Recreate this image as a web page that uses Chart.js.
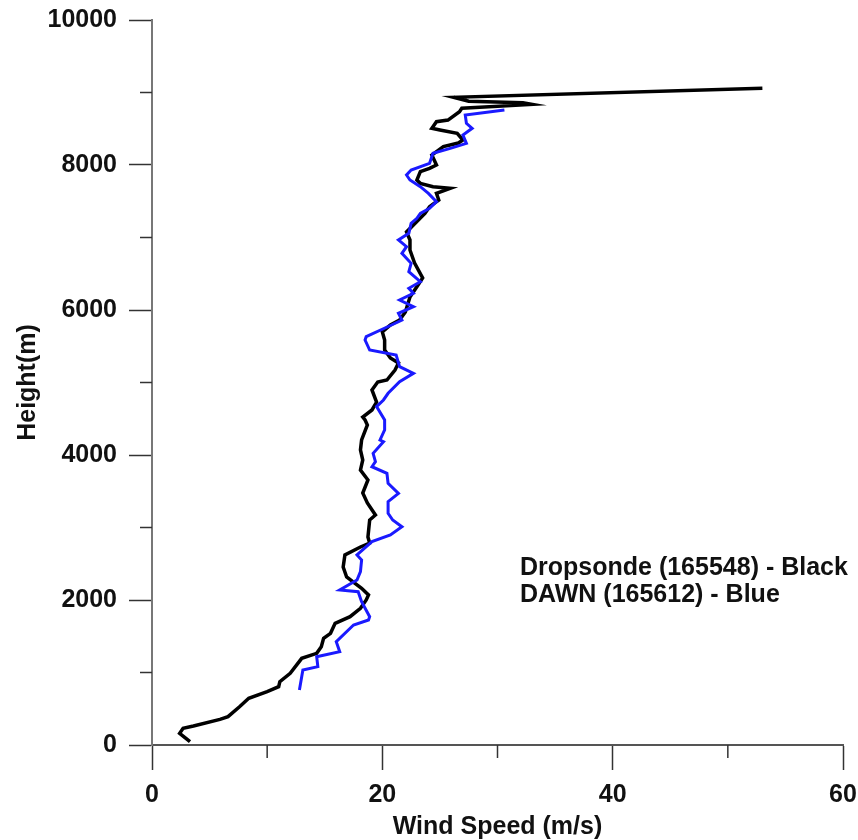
<!DOCTYPE html>
<html>
<head>
<meta charset="utf-8">
<title>Wind Speed Profile</title>
<script src="https://cdn.jsdelivr.net/npm/chart.js@4.4.1/dist/chart.umd.min.js"></script>
<style>
  body { margin: 0; background: #fff; }
  #wrap { width: 858px; height: 840px; }
</style>
</head>
<body>
<div id="wrap"><canvas id="profileChart" width="858" height="840"></canvas></div>
<script>
// ========================================
// DATA
// ========================================
const dropsondeSpeed = [3.3, 2.4, 2.7, 3.6, 5.9, 6.6, 7.6, 8.4, 10.0, 11.0, 11.1, 12.0, 13.0, 14.3, 14.7, 14.9, 15.5, 15.9,
    17.2, 18.1, 18.6, 18.8, 18.2, 17.6, 16.9, 16.6, 16.75, 18.1, 18.9, 18.75, 18.9, 19.4, 18.7, 18.3, 18.75, 18.1,
    18.3, 18.1, 18.2, 18.7, 18.5, 18.3, 19.1, 19.5, 19.1, 19.6, 20.4, 21.1, 21.4, 20.7, 20.2, 20.2, 20.0, 20.7,
    21.5, 22.0, 22.4, 23.1, 23.5, 22.8, 22.4, 22.4, 22.1, 22.7, 23.7, 24.1, 24.9, 24.7, 25.9, 24.4, 23.3, 23.0,
    23.3, 24.1, 24.7, 24.3, 25.3, 26.6, 27.0, 26.5, 25.0, 24.3, 24.7, 25.7, 26.7, 26.9, 33.0, 32.2, 27.5, 26.2, 53.0];
const dropsondeHeight = [46, 161, 230, 262, 354, 391, 528, 644, 736, 805, 874, 989, 1195, 1264, 1356, 1471, 1540, 1678,
    1770, 1885, 2000, 2069, 2161, 2234, 2317, 2455, 2621, 2731, 2786, 2869, 3103, 3172, 3338, 3476, 3655, 3793,
    3931, 4069, 4207, 4414, 4483, 4524, 4621, 4731, 4897, 5007, 5034, 5172, 5269, 5338, 5448, 5586, 5697, 5793,
    5862, 5972, 6179, 6345, 6441, 6648, 6828, 6966, 7076, 7172, 7333, 7425, 7517, 7609, 7678, 7700, 7747, 7793,
    7908, 7953, 8000, 8138, 8253, 8303, 8345, 8436, 8483, 8506, 8598, 8620, 8735, 8782, 8836, 8859, 8880, 8934, 9058];

const dawnSpeed = [12.8, 13.1, 14.4, 14.3, 16.3, 16.0, 17.5, 18.8, 18.9, 18.2, 17.9, 16.3, 17.8, 18.1, 18.2, 17.8, 19.1,
    20.7, 21.7, 20.9, 20.5, 20.5, 21.4, 20.5, 20.4, 19.1, 19.4, 19.2, 20.1, 19.8, 20.2, 20.2, 19.5, 20.1, 20.5,
    21.5, 22.7, 21.5, 21.2, 18.9, 18.5, 18.6, 20.8, 21.7, 21.4, 22.7, 21.5, 22.7, 22.3, 23.3, 22.3, 22.5, 21.7,
    22.1, 21.4, 22.3, 22.5, 23.0, 23.3, 24.1, 24.7, 24.0, 23.3, 22.4, 22.1, 22.5, 24.1, 24.4, 25.9, 27.3, 27.0,
    27.8, 27.3, 27.2, 30.6];
const dawnHeight = [759, 1034, 1080, 1218, 1287, 1425, 1655, 1724, 1770, 1977, 2115, 2138, 2276, 2391, 2552, 2621, 2805,
    2897, 3011, 3103, 3195, 3356, 3471, 3609, 3747, 3838, 3908, 4023, 4184, 4207, 4345, 4483, 4668, 4759, 4851,
    5011, 5126, 5218, 5379, 5448, 5586, 5632, 5793, 5862, 5954, 6046, 6138, 6230, 6299, 6390, 6528, 6644, 6782,
    6873, 6966, 7057, 7195, 7264, 7333, 7402, 7494, 7609, 7701, 7793, 7862, 7931, 8023, 8161, 8230, 8299, 8414,
    8506, 8575, 8690, 8759];

const xMajorTicks = [0, 20, 40, 60];
const xMinorTicks = [10, 30, 50];
const yMajorTicks = [0, 2000, 4000, 6000, 8000, 10000];
const yMinorTicks = [1000, 3000, 5000, 7000, 9000];

const legendLines = ['Dropsonde (165548) - Black', 'DAWN (165612) - Blue'];

// ========================================
// HELPERS
// ========================================
function toPoints(speeds, heights) {
    return speeds.map(function (s, i) { return { x: s, y: heights[i] }; });
}

const FONT = "'Liberation Sans', Arial, sans-serif";

// minor ticks + note text
const extrasPlugin = {
    id: 'extras',
    afterDraw: function (chart) {
        const ctx = chart.ctx;
        const xs = chart.scales.x;
        const ys = chart.scales.y;
        ctx.save();
        ctx.strokeStyle = '#333';
        ctx.lineWidth = 1.5;
        xMinorTicks.forEach(function (v) {
            const px = xs.getPixelForValue(v);
            ctx.beginPath();
            ctx.moveTo(px, ys.bottom);
            ctx.lineTo(px, ys.bottom + 13);
            ctx.stroke();
        });
        yMinorTicks.forEach(function (v) {
            const py = ys.getPixelForValue(v);
            ctx.beginPath();
            ctx.moveTo(xs.left, py);
            ctx.lineTo(xs.left - 12, py);
            ctx.stroke();
        });

        ctx.fillStyle = '#111';
        ctx.font = 'bold 25px ' + FONT;
        ctx.textAlign = 'left';
        ctx.textBaseline = 'alphabetic';
        legendLines.forEach(function (t, i) {
            ctx.fillText(t, 520, 575 + i * 27);
        });
        ctx.restore();
    }
};

// ========================================
// CHART
// ========================================
new Chart(document.getElementById('profileChart'), {
    type: 'scatter',
    data: {
        datasets: [
            {
                label: 'DAWN',
                data: toPoints(dawnSpeed, dawnHeight),
                showLine: true,
                borderColor: '#1a1aff',
                borderWidth: 3,
                pointRadius: 0,
                tension: 0,
                order: 0
            },
            {
                label: 'Dropsonde',
                data: toPoints(dropsondeSpeed, dropsondeHeight),
                showLine: true,
                borderColor: '#000000',
                borderWidth: 3.5,
                pointRadius: 0,
                tension: 0,
                order: 1
            }
        ]
    },
    options: {
        responsive: false,
        animation: false,
        layout: { padding: { top: 20, right: 15, bottom: 0, left: 0 } },
        plugins: {
            legend: { display: false },
            tooltip: { enabled: false }
        },
        scales: {
            x: {
                type: 'linear',
                min: 0,
                max: 60,
                afterBuildTicks: function (scale) {
                    scale.ticks = xMajorTicks.map(function (v) { return { value: v }; });
                },
                afterFit: function (scale) {
                    scale.height = 95;
                    scale.paddingLeft = 0;
                    scale.paddingRight = 0;
                },
                border: { display: true, color: '#555', width: 2 },
                grid: { drawOnChartArea: false, drawTicks: true, tickLength: 25, tickColor: '#333', tickWidth: 1.5 },
                ticks: {
                    color: '#111',
                    padding: 10,
                    font: { family: FONT, size: 25, weight: 'bold' },
                    callback: function (value) { return String(value); }
                },
                title: {
                    display: true,
                    text: 'Wind Speed (m/s)',
                    color: '#111',
                    padding: { top: 0, bottom: -2 },
                    font: { family: FONT, size: 25, weight: 'bold' }
                }
            },
            y: {
                type: 'linear',
                min: 0,
                max: 10000,
                afterBuildTicks: function (scale) {
                    scale.ticks = yMajorTicks.map(function (v) { return { value: v }; });
                },
                afterFit: function (scale) {
                    scale.width = 152;
                    scale.paddingTop = 0;
                    scale.paddingBottom = 0;
                },
                border: { display: true, color: '#777', width: 2 },
                grid: { drawOnChartArea: false, drawTicks: true, tickLength: 23, tickColor: '#333', tickWidth: 1.5 },
                ticks: {
                    color: '#111',
                    padding: 12,
                    font: { family: FONT, size: 25, weight: 'bold' },
                    callback: function (value) { return String(value); }
                },
                title: {
                    display: true,
                    text: 'Height(m)',
                    color: '#111',
                    padding: { top: 13, bottom: 0 },
                    font: { family: FONT, size: 25, weight: 'bold' }
                }
            }
        }
    },
    plugins: [extrasPlugin]
});
</script>
</body>
</html>
